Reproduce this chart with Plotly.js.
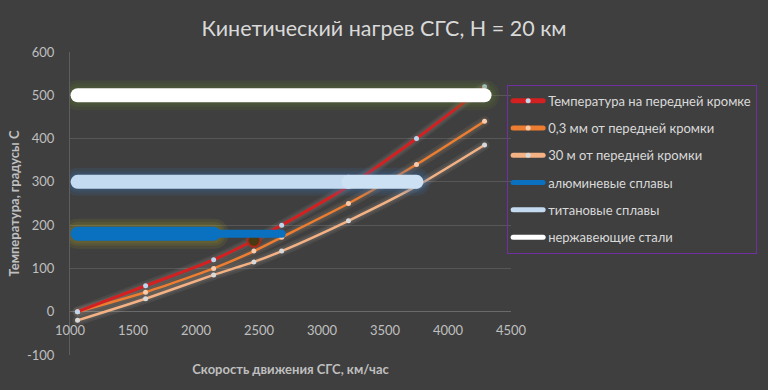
<!DOCTYPE html>
<html>
<head>
<meta charset="utf-8">
<script src="https://cdn.plot.ly/plotly-3.0.1.min.js"></script>
<style>
  html, body { margin: 0; padding: 0; background: #3f3f3f; }
  .js-line { stroke-linecap: round; }
  .legendlines path { stroke-width: 5px !important; }
</style>
</head>
<body>
<div id="chart" style="width:768px;height:390px;"></div>
<script>
// ---- data ----
const speed = [1060, 1600, 2140, 2460, 2680, 3210, 3750, 4290];      // км/час
const tEdge = [0, 60, 120, 165, 200, 290, 400, 520];                 // Температура на передней кромке
const t03   = [0, 45, 100, 140, 172, 250, 340, 440];                 // 0,3 мм от передней кромки
const t30   = [-20, 30, 85, 115, 140, 210, 290, 385];                // 30 м от передней кромки
const aluLevel = 180;    // алюминиевые сплавы
const titanLevel = 300;  // титановые сплавы
const steelLevel = 500;  // нержавеющие стали
const seriesNames = [
  'Температура на передней кромке',
  '0,3 мм от передней кромки',
  '30 м от передней кромки',
  'алюминевые сплавы',
  'титановые сплавы',
  'нержавеющие стали'
];
const xTicks = [1000, 1500, 2000, 2500, 3000, 3500, 4000, 4500];
const yTicks = [-100, 0, 100, 200, 300, 400, 500, 600];

const FONT = 'Lato, "Open Sans", sans-serif';
const traces = [];

function glow(x, y, widths, color, spline) {
  widths.forEach(w => traces.push({x, y, type: 'scatter', mode: 'lines', showlegend: false, hoverinfo: 'skip',
    line: {color, width: w, shape: spline ? 'spline' : 'linear', smoothing: 0.6}}));
}

// glows under curves
glow(speed, t30, [10, 6], 'rgba(255,240,225,0.07)', true);
glow(speed, t03, [10, 6], 'rgba(255,210,170,0.07)', true);
glow(speed, tEdge, [10, 6], 'rgba(255,220,210,0.07)', true);

// curves
traces.push({x: speed, y: t30, name: seriesNames[2], type: 'scatter', mode: 'lines+markers',
  line: {color: '#f4b183', width: 2.5, shape: 'spline', smoothing: 0.6},
  marker: {color: '#d9d9d9', size: 5}, legendrank: 3, legendgroup: 'g3'});
traces.push({x: speed, y: t03, name: seriesNames[1], type: 'scatter', mode: 'lines+markers',
  line: {color: '#ed7d31', width: 2.5, shape: 'spline', smoothing: 0.6},
  marker: {color: '#f8cbad', size: 5}, legendrank: 2, legendgroup: 'g2'});
traces.push({x: speed, y: tEdge, name: seriesNames[0], type: 'scatter', mode: 'lines+markers',
  line: {color: '#d42020', width: 3, shape: 'spline', smoothing: 0.6},
  marker: {color: '#bdd7ee', size: 5}, legendrank: 1, legendgroup: 'g1'});

// glows under bars
glow([speed[0], speed[7]], [steelLevel, steelLevel], [30, 24, 19], 'rgba(100,130,50,0.13)');
glow([speed[0], speed[6]], [titanLevel, titanLevel], [28, 22, 18], 'rgba(60,120,200,0.12)');
glow([speed[0], speed[2]], [aluLevel, aluLevel], [30, 24, 19], 'rgba(170,160,40,0.13)');

// highlighted point
traces.push({x: [speed[3]], y: [tEdge[3]], type: 'scatter', mode: 'markers', showlegend: false,
  hoverinfo: 'skip', marker: {color: '#4a3a12', size: 13, line: {color: '#b02818', width: 2}}});

// bars (thick lines)
traces.push({x: [speed[0], speed[2]], y: [aluLevel, aluLevel], name: seriesNames[3], type: 'scatter',
  mode: 'lines', line: {color: '#0a70c0', width: 14}, legendrank: 4, legendgroup: 'g4'});
traces.push({x: [speed[2], speed[4]], y: [aluLevel, aluLevel], type: 'scatter', showlegend: false,
  mode: 'lines', line: {color: '#0a70c0', width: 8}, hoverinfo: 'skip'});
traces.push({x: [speed[0], speed[5]], y: [titanLevel, titanLevel], name: seriesNames[4], type: 'scatter',
  mode: 'lines', line: {color: '#c3daf1', width: 14}, legendrank: 5, legendgroup: 'g5'});
traces.push({x: [speed[5], speed[6]], y: [titanLevel, titanLevel], type: 'scatter', showlegend: false,
  mode: 'lines', line: {color: '#cde1f4', width: 14}, hoverinfo: 'skip'});
traces.push({x: [speed[0], speed[7]], y: [steelLevel, steelLevel], name: seriesNames[5], type: 'scatter',
  mode: 'lines', line: {color: '#ffffff', width: 14}, legendrank: 6, legendgroup: 'g6'});

const layout = {
  width: 768, height: 390,
  paper_bgcolor: '#3f3f3f', plot_bgcolor: '#3f3f3f',
  margin: {l: 70, r: 256, t: 52, b: 35},
  font: {family: FONT, color: '#bfbfbf', size: 13},
  title: {text: 'Кинетический нагрев СГС, Н = 20 км', x: 0.5, xanchor: 'center', y: 0.928, yanchor: 'middle',
    font: {family: FONT, size: 21.5, color: '#d9d9d9'}},
  showlegend: true,
  legend: {x: 0.989, xanchor: 'left', y: 0.892, yanchor: 'top', bgcolor: 'rgba(0,0,0,0)',
    bordercolor: '#7030a0', borderwidth: 1, font: {family: FONT, size: 13, color: '#d9d9d9'},
    tracegroupgap: 7.4, traceorder: 'grouped'},
  xaxis: {range: [1000, 4500], tickvals: xTicks, ticktext: xTicks.map(String), anchor: 'free', position: 1/7,
    showgrid: false, zeroline: false, showline: false, ticks: 'outside', ticklen: 7, tickcolor: 'rgba(0,0,0,0)',
    tickfont: {family: FONT, size: 13, color: '#bfbfbf'},
    title: {text: '<b>Скорость движения СГС, км/час</b>', standoff: 27, font: {family: FONT, size: 13, color: '#bfbfbf'}}},
  yaxis: {range: [-100, 600], tickvals: yTicks, ticktext: yTicks.map(String), showgrid: true, gridcolor: '#575757', gridwidth: 1,
    zeroline: true, zerolinecolor: '#6a6a6a', zerolinewidth: 1.5, showline: true, linecolor: '#5e5e5e', linewidth: 1,
    ticks: '', ticklabelstandoff: 12, tickfont: {family: FONT, size: 13, color: '#bfbfbf'},
    title: {text: '<b>Температура, градусы С</b>', standoff: 4, font: {family: FONT, size: 13, color: '#bfbfbf'}}}
};

Plotly.newPlot('chart', traces, layout, {displayModeBar: false, staticPlot: true});
</script>
</body>
</html>
